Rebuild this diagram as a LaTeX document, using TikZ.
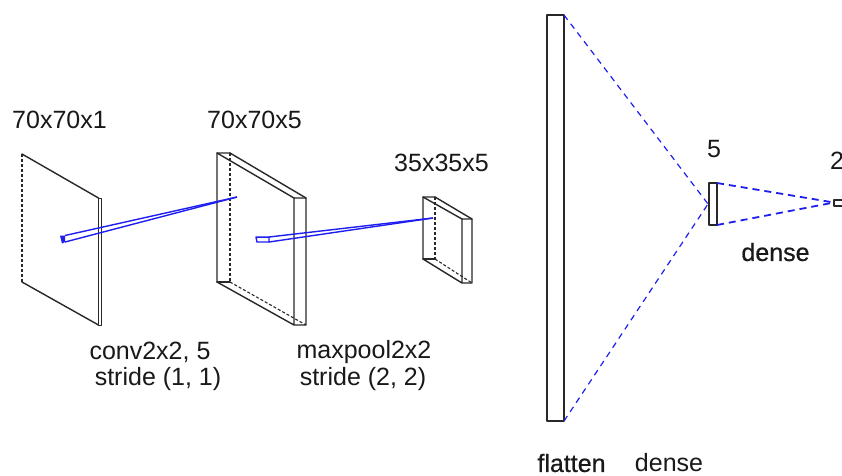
\documentclass[tikz,border=0pt]{standalone}
\usepackage{fontspec}
\setmainfont{Liberation Sans}
\newfontfamily\heavier[FakeBold=0.6]{Liberation Sans}
\definecolor{edgecol}{RGB}{40,40,40}
\definecolor{linkblue}{RGB}{30,30,240}
\tikzset{
  solidedge/.style={draw=edgecol,line width=1.4pt,line cap=round,line join=round},
  thinedge/.style={draw=edgecol,line width=0.9pt,line cap=round,line join=round},
  hiddenedge/.style={draw=edgecol,line width=1.1pt,dash pattern=on 3pt off 2pt},
  bluelink/.style={draw=linkblue,line width=1.4pt},
  bluedash/.style={draw=linkblue,line width=1.2pt,dash pattern=on 6pt off 5pt},
  bluedashthick/.style={draw=linkblue,line width=1.8pt,dash pattern=on 7pt off 5pt},
  label/.style={inner sep=0pt,font=\fontsize{25}{25}\selectfont,anchor=center,text=black!90}
}
\begin{document}
\begin{tikzpicture}[x=1pt,y=-1pt]
\useasboundingbox[fill=white] (0,0) rectangle (842,475);

% layer 1
\coordinate (a1) at (22,154);
\coordinate (a2) at (98.5,198);
\coordinate (a3) at (101.5,198);
\coordinate (a4) at (22,282);
\coordinate (a5) at (98.5,325);
\coordinate (a6) at (101.5,325);
\draw[solidedge] (a4) -- (a5);
\draw[thinedge] (a5) -- (a6) -- (a3) -- (a2) -- (a5);
\draw[solidedge] (a1) -- (a2);
\draw[hiddenedge] (a1) -- (a4);

% layer 2
\coordinate (b1) at (217,153);
\coordinate (b2) at (230,153);
\coordinate (b3) at (294,198);
\coordinate (b4) at (306,198);
\coordinate (b5) at (217,282);
\coordinate (b6) at (230,282);
\coordinate (b7) at (294,325);
\coordinate (b8) at (306,325);
\draw[solidedge] (b2) -- (b1) -- (b5) -- (b7) -- (b8) -- (b4) -- (b3) -- (b7);
\draw[solidedge] (b1) -- (b3);
\draw[solidedge] (b2) -- (b4);
\draw[solidedge] (b5) -- (b6);
\draw[hiddenedge] (b2) -- (b6);
\draw[hiddenedge] (b6) -- (b8);

% layer 3
\coordinate (c1) at (423,197);
\coordinate (c2) at (435,197);
\coordinate (c3) at (462,219);
\coordinate (c4) at (472,219);
\coordinate (c5) at (423,259);
\coordinate (c6) at (435,259);
\coordinate (c7) at (462,283);
\coordinate (c8) at (472,283);
\draw[solidedge] (c2) -- (c1) -- (c5) -- (c7) -- (c8) -- (c4) -- (c3) -- (c7);
\draw[solidedge] (c1) -- (c3);
\draw[solidedge] (c2) -- (c4);
\draw[solidedge] (c5) -- (c6);
\draw[hiddenedge] (c2) -- (c6);
\draw[hiddenedge] (c6) -- (c8);

% blue kernel projections
\coordinate (p1) at (60,235.5);
\coordinate (p2) at (65,235.5);
\coordinate (p3) at (65,242);
\coordinate (p4) at (62,243.5);
\coordinate (q1) at (237,197);
\fill[linkblue] (p1) -- (p2) -- (p3) -- (p4) -- cycle;
\draw[bluelink] (p2) -- (q1);
\draw[bluelink] (p3) -- (q1);

\coordinate (r1) at (256,237);
\coordinate (r2) at (269,237);
\coordinate (r3) at (269,242);
\coordinate (r4) at (257,242);
\coordinate (s1) at (433,218);
\draw[bluelink,line join=round] (r1) -- (r2) -- (r3) -- (r4) -- cycle;
\fill[linkblue] (r1) -- (r2) -- ++(0,1.2) -- ++(-13,0) -- cycle;
\draw[bluelink] (r2) -- (s1);
\draw[bluelink] (r3) -- (s1);

% dense part
\coordinate (f1) at (547,15);
\coordinate (f2) at (564,15);
\coordinate (f3) at (564,421);
\coordinate (f4) at (547,421);
\draw[solidedge] (f1) -- (f2) -- (f3) -- (f4) -- cycle;

\coordinate (g0) at (708,204);
\coordinate (g1) at (709,183);
\coordinate (g2) at (717,183);
\coordinate (g3) at (717,225);
\coordinate (g4) at (709,225);
\draw[solidedge] (g1) -- (g2) -- (g3) -- (g4) -- cycle;

\coordinate (h0) at (834,202.5);
\coordinate (h1) at (834,200);
\coordinate (h2) at (842,200);
\coordinate (h3) at (842,206);
\coordinate (h4) at (834,206);
\draw[solidedge] (h2) -- (h1) -- (h4) -- (h3);

\draw[bluedash] (f2) -- (g0);
\draw[bluedash] (f3) -- (g0);
\draw[bluedashthick] (g2) -- (h0);
\draw[bluedashthick] (g3) -- (h0);

% labels
\node[label] (t1) at (59.5,120) {70x70x1};
\node[label] (t2) at (254.5,120) {70x70x5};
\node[label] (t3) at (441.5,163) {35x35x5};
\node[label] (t4) at (714,149) {5};
\node[label,anchor=west] (t5) at (830,161) {2};
\node[label] (t6) at (150,352) {conv2x2, 5};
\node[label] (t7) at (158,379) {stride (1, 1)};
\node[label] (t8) at (364,352) {maxpool2x2};
\node[label] (t9) at (363,379) {stride (2, 2)};
\node[label] (t10) at (775.5,252) {\heavier dense};
\node[label] (t11) at (571.5,463) {\heavier flatten};
\node[label] (t12) at (669,463) {dense};
\end{tikzpicture}
\end{document}
